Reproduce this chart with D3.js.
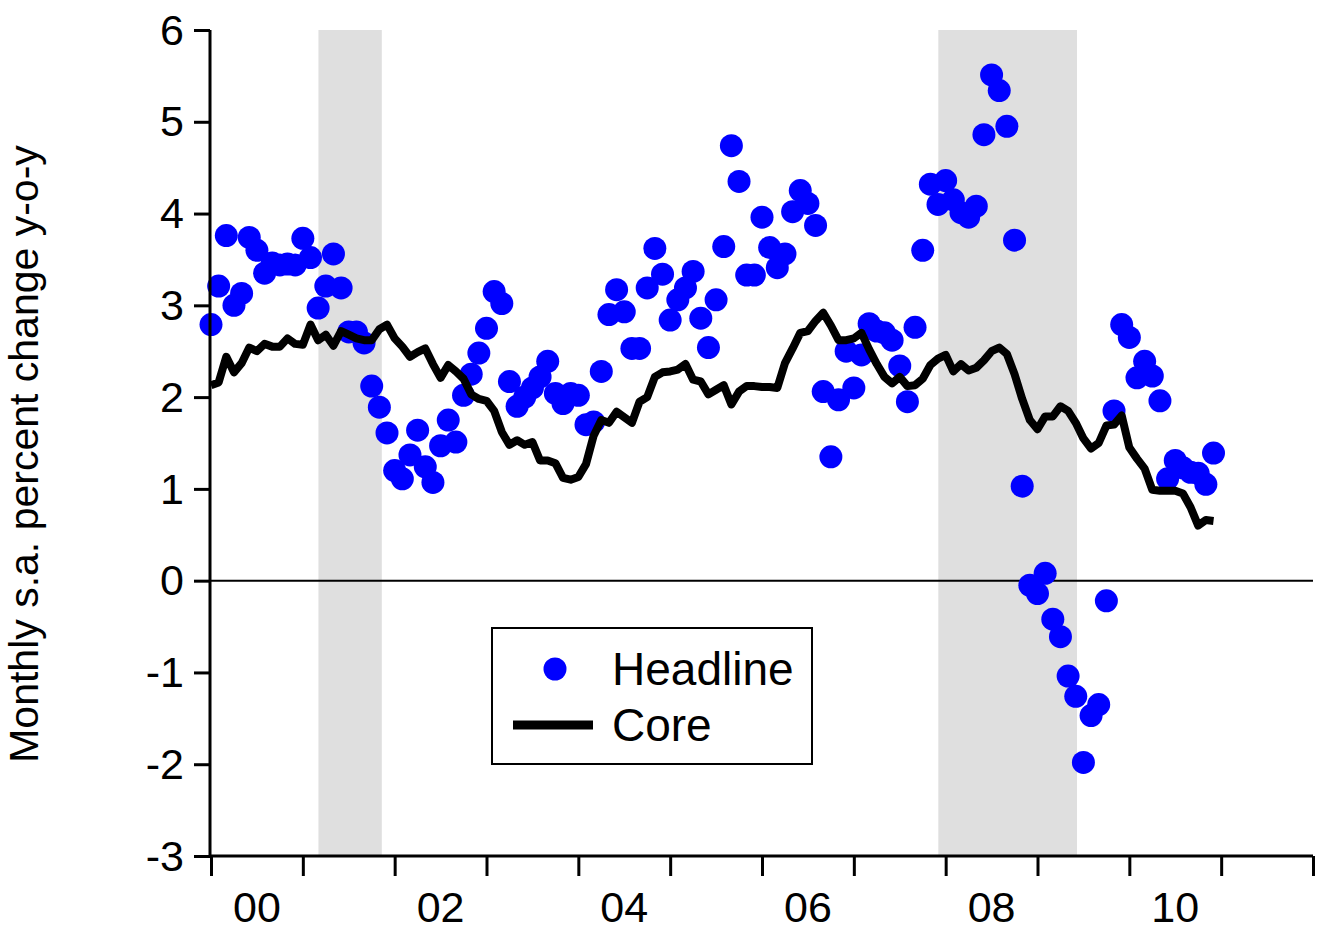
<!DOCTYPE html>
<html>
<head>
<meta charset="utf-8">
<script src="https://cdn.jsdelivr.net/npm/d3@7"></script>
<style>
  html, body { margin: 0; padding: 0; background: #fff; }
  svg { display: block; font-family: "Liberation Sans", Arial, Helvetica, sans-serif; }
</style>
</head>
<body>
<svg id="chart" width="1322" height="932"></svg>
<script>
// Monthly series, January 2000 through December 2010 (percent change y-o-y)
const startYear = 2000;

const headline = [
  // 2000
  2.79, 3.21, 3.76, 3.00, 3.13, 3.74, 3.60, 3.35, 3.46, 3.44, 3.45, 3.44,
  // 2001
  3.73, 3.52, 2.97, 3.21, 3.56, 3.19, 2.71, 2.71, 2.59, 2.12, 1.89, 1.61,
  // 2002
  1.20, 1.11, 1.37, 1.64, 1.24, 1.07, 1.47, 1.75, 1.51, 2.02, 2.25, 2.48,
  // 2003
  2.75, 3.15, 3.02, 2.17, 1.90, 2.00, 2.10, 2.22, 2.39, 2.04, 1.93, 2.04,
  // 2004
  2.02, 1.70, 1.73, 2.28, 2.90, 3.17, 2.93, 2.53, 2.53, 3.19, 3.62, 3.34,
  // 2005
  2.84, 3.06, 3.19, 3.37, 2.86, 2.54, 3.06, 3.64, 4.74, 4.35, 3.33, 3.33,
  // 2006
  3.96, 3.63, 3.41, 3.56, 4.02, 4.25, 4.11, 3.87, 2.06, 1.35, 1.97, 2.50,
  // 2007
  2.10, 2.46, 2.80, 2.72, 2.70, 2.62, 2.34, 1.95, 2.76, 3.60, 4.32, 4.10,
  // 2008
  4.36, 4.15, 4.01, 3.96, 4.08, 4.86, 5.51, 5.34, 4.95, 3.71, 1.03, -0.05,
  // 2009
  -0.14, 0.08, -0.42, -0.61, -1.04, -1.26, -1.98, -1.47, -1.35, -0.22, 1.85, 2.79,
  // 2010
  2.65, 2.21, 2.39, 2.23, 1.96, 1.11, 1.31, 1.23, 1.18, 1.17, 1.05, 1.39
];

const core = [
  // 2000
  2.13, 2.16, 2.44, 2.27, 2.37, 2.54, 2.50, 2.58, 2.55, 2.55, 2.64, 2.58,
  // 2001
  2.57, 2.79, 2.62, 2.68, 2.56, 2.72, 2.68, 2.64, 2.62, 2.62, 2.74, 2.79,
  // 2002
  2.64, 2.55, 2.44, 2.49, 2.53, 2.36, 2.21, 2.35, 2.28, 2.20, 2.03, 1.98,
  // 2003
  1.96, 1.85, 1.62, 1.48, 1.53, 1.48, 1.51, 1.31, 1.31, 1.28, 1.12, 1.10,
  // 2004
  1.13, 1.27, 1.58, 1.75, 1.72, 1.84, 1.78, 1.72, 1.95, 2.00, 2.22, 2.27,
  // 2005
  2.28, 2.30, 2.36, 2.19, 2.17, 2.03, 2.08, 2.13, 1.92, 2.06, 2.12, 2.12,
  // 2006
  2.11, 2.11, 2.10, 2.37, 2.53, 2.70, 2.72, 2.83, 2.92, 2.78, 2.62, 2.62,
  // 2007
  2.64, 2.70, 2.52, 2.36, 2.22, 2.15, 2.22, 2.12, 2.13, 2.20, 2.35, 2.42,
  // 2008
  2.46, 2.28, 2.36, 2.29, 2.32, 2.40, 2.50, 2.54, 2.47, 2.25, 1.98, 1.75,
  // 2009
  1.65, 1.79, 1.79, 1.90, 1.85, 1.72, 1.55, 1.44, 1.50, 1.69, 1.70, 1.80,
  // 2010
  1.45, 1.33, 1.22, 0.99, 0.98, 0.98, 0.98, 0.95, 0.80, 0.60, 0.66, 0.65
];

// Recession periods, in decimal years
const recessions = [
  [2001.17, 2001.86],
  [2007.92, 2009.43]
];

const yTicks = [-3, -2, -1, 0, 1, 2, 3, 4, 5, 6];
const xLabelYears = [2000, 2002, 2004, 2006, 2008, 2010];
const xLabels = ["00", "02", "04", "06", "08", "10"];
const legendItems = ["Headline", "Core"];
const yTitle = "Monthly s.a. percent change y-o-y";

const svg = d3.select("#chart");
const W = 1322, H = 932;
const plot = { left: 210, right: 1313, top: 30, bottom: 856 };

svg.append("rect").attr("width", W).attr("height", H).attr("fill", "#fff");

const x = d3.scaleLinear().domain([2000, 2012]).range([211, plot.right]);
const y = d3.scaleLinear().domain([-3, 6]).range([plot.bottom, plot.top]);

const monthX = i => x(startYear + i / 12);

// shaded recession bands
svg.append("g").selectAll("rect")
  .data(recessions)
  .join("rect")
  .attr("x", d => x(d[0]))
  .attr("width", d => x(d[1]) - x(d[0]))
  .attr("y", y(6))
  .attr("height", y(-3) - y(6))
  .attr("fill", "#dfdfdf");

// zero line
svg.append("line")
  .attr("x1", plot.left).attr("x2", plot.right)
  .attr("y1", y(0)).attr("y2", y(0))
  .attr("stroke", "#000").attr("stroke-width", 2);

// headline points
svg.append("g").selectAll("circle")
  .data(headline)
  .join("circle")
  .attr("cx", (d, i) => monthX(i))
  .attr("cy", d => y(d))
  .attr("r", 11.5)
  .attr("fill", "#0000ff");

// core line
const line = d3.line()
  .x((d, i) => monthX(i))
  .y(d => y(d));

svg.append("path")
  .datum(core)
  .attr("d", line)
  .attr("fill", "none")
  .attr("stroke", "#000")
  .attr("stroke-width", 8)
  .attr("stroke-linejoin", "round");

// y axis (plain hyphen for negatives)
const yAxis = svg.append("g")
  .attr("transform", `translate(${plot.left},0)`)
  .call(d3.axisLeft(y).tickValues(yTicks).tickFormat(d => String(d)).tickSize(16).tickPadding(10));
yAxis.select(".domain").attr("stroke-width", 3).attr("d", `M0,${plot.top}V${plot.bottom}`);
yAxis.selectAll(".tick line").attr("stroke-width", 3);
yAxis.selectAll(".tick text")
  .attr("font-size", 43)
  .attr("font-family", "Liberation Sans, Arial, sans-serif")
  .attr("fill", "#000")
  .attr("dy", "0.33em");

// x axis
const xAxis = svg.append("g")
  .attr("transform", `translate(0,${plot.bottom})`)
  .call(d3.axisBottom(x).tickValues(d3.range(2000, 2013)).tickFormat("").tickSize(20).tickSizeOuter(0));
xAxis.select(".domain").attr("stroke-width", 3).attr("d", `M${plot.left},0H${plot.right}`);
xAxis.selectAll(".tick line").attr("stroke-width", 3);

svg.append("g").selectAll("text")
  .data(xLabelYears)
  .join("text")
  .attr("x", d => x(d + 0.5))
  .attr("y", 922)
  .attr("text-anchor", "middle")
  .attr("font-size", 43)
  .attr("fill", "#000")
  .text((d, i) => xLabels[i]);

// y axis title
svg.append("text")
  .attr("transform", "translate(38,454) rotate(-90)")
  .attr("text-anchor", "middle")
  .attr("font-size", 41)
  .attr("fill", "#000")
  .text(yTitle);

// legend
const lg = svg.append("g");
lg.append("rect")
  .attr("x", 492).attr("y", 628)
  .attr("width", 320).attr("height", 136)
  .attr("fill", "#fff").attr("stroke", "#000").attr("stroke-width", 2);
lg.append("circle")
  .attr("cx", 555).attr("cy", 669).attr("r", 11.5)
  .attr("fill", "#0000ff");
lg.append("line")
  .attr("x1", 513).attr("x2", 593)
  .attr("y1", 725).attr("y2", 725)
  .attr("stroke", "#000").attr("stroke-width", 9);
lg.selectAll("text.item")
  .data(legendItems)
  .join("text")
  .attr("class", "item")
  .attr("x", 612)
  .attr("y", (d, i) => 685 + i * 56)
  .attr("font-size", 46)
  .attr("fill", "#000")
  .text(d => d);
</script>
</body>
</html>
